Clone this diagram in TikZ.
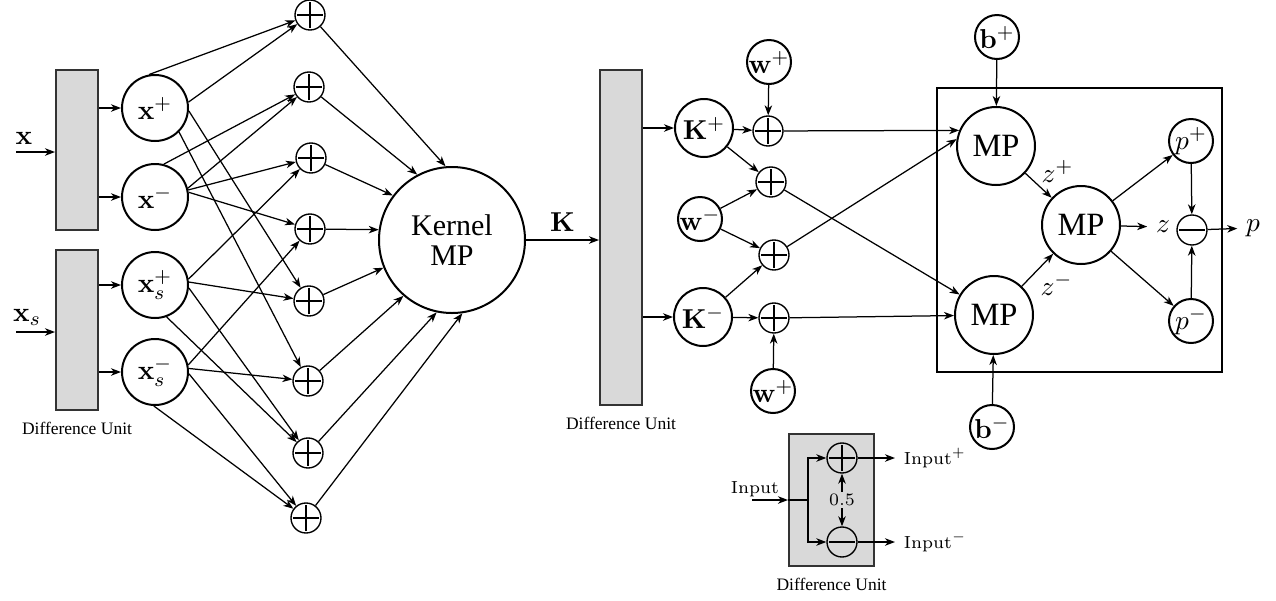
\documentclass[tikz,border=0pt]{standalone}
\usepackage[no-math]{fontspec}
\setmainfont{Liberation Serif}
\usetikzlibrary{arrows.meta, positioning}

\begin{document}
\begin{tikzpicture}[
    x=0.4pt, y=-0.4pt,
    font=\fontsize{11}{12}\selectfont,
    unit/.style={draw=black!80, line width=0.8pt, fill=black!15, minimum width=16.8pt},
    var/.style={circle, draw, line width=0.8pt, inner sep=0pt},
    sum/.style={circle, draw, line width=0.55pt, minimum size=12pt, inner sep=0pt,
        path picture={\draw[line width=0.55pt] ([xshift=-5.2pt]path picture bounding box.center) -- ([xshift=5.2pt]path picture bounding box.center);
                      \draw[line width=0.55pt] ([yshift=-5.2pt]path picture bounding box.center) -- ([yshift=5.2pt]path picture bounding box.center);}},
    diff/.style={circle, draw, line width=0.55pt, minimum size=12pt, inner sep=0pt,
        path picture={\draw[line width=0.55pt] ([xshift=-5.2pt]path picture bounding box.center) -- ([xshift=5.2pt]path picture bounding box.center);}},
    caption/.style={font=\fontsize{7}{8}\selectfont},
    arrow/.style={-{Stealth[length=4pt, width=3pt, inset=1.2pt]}, line width=0.5pt},
    dblarrow/.style={{Stealth[length=4pt, width=3pt, inset=1.2pt]}-{Stealth[length=4pt, width=3pt, inset=1.2pt]}, line width=0.5pt}
]
\useasboundingbox (0,0) rectangle (1276,601);

% Difference units and inputs
\node[unit, minimum height=64pt] (du1) at (77,150) {};
\node[unit, minimum height=64pt] (du2) at (77,330) {};
\node[caption, below=1pt of du2] (du2lbl) {Difference Unit};
\coordinate (inx) at (16,152);
\coordinate (inxs) at (16,332);
\node (lblx) at (24,138) {$\mathbf{x}$};
\node (lblxs) at (27,317) {$\mathbf{x}_s$};

% Nodes
\node[var, minimum size=26.4pt] (xp) at (155,108) {$\mathbf{x}^+$};
\node[var, minimum size=26.4pt] (xm) at (155,197) {$\mathbf{x}^-$};
\node[var, minimum size=26.4pt] (xsp) at (155,285) {$\mathbf{x}_s^+$};
\node[var, minimum size=26.4pt] (xsm) at (155,372) {$\mathbf{x}_s^-$};
\foreach \i/\x/\y in {1/310/15, 2/309/87, 3/311/158, 4/310/229, 5/309/301, 6/308/381, 7/308/453, 8/306/518}
    \node[sum] (s\i) at (\x,\y) {};
\node[var, minimum size=58.4pt, align=center, font=\fontsize{12}{12}\selectfont] (kernel) at (452,240) {Kernel\\MP};

% Arrows for the input side
\draw[arrow] (inx) -- (du1.west |- inx);
\draw[arrow] (inxs) -- (du2.west |- inxs);
\draw[arrow] (du1.east |- xp) -- (xp);
\draw[arrow] (du1.east |- xm) -- (xm);
\draw[arrow] (du2.east |- xsp) -- (xsp);
\draw[arrow] (du2.east |- xsm) -- (xsm);
\foreach \a/\b in {xp.100/s1, xp.10/s1, xp.-5/s5, xp.-45/s6,
                   xm.75/s2, xm.15/s2, xm.12/s3, xm.8/s4,
                   xsp.10/s3, xsp.5/s5, xsp.-5/s7, xsp.-70/s7,
                   xsm.12/s4, xsm.6/s6, xsm.-3/s8, xsm.-92/s8}
    \draw[arrow] (\a) -- (\b);
\foreach \i/\ang in {1/95, 2/118, 3/143, 4/172, 5/202, 6/229, 7/258, 8/278}
    \draw[arrow] (s\i) -- (kernel.\ang);

% Second difference unit
\node[unit, minimum height=134pt] (du3) at (621,237) {};
\node[caption, below=1pt of du3] (du3lbl) {Difference Unit};
\draw[arrow] (kernel) -- (kernel -| du3.west) node[midway, above] {$\mathbf{K}$};

\node[var, minimum size=23.2pt] (kp) at (704,128) {$\mathbf{K}^+$};
\node[var, minimum size=23.2pt] (km) at (703,317) {$\mathbf{K}^-$};
\node[var, minimum size=17.6pt] (wt) at (769,62) {\makebox[0pt]{$\mathbf{w}^+$}};
\node[var, minimum size=17.6pt] (wm) at (700,219) {\makebox[0pt]{$\mathbf{w}^-$}};
\node[var, minimum size=17.6pt] (wb) at (773,391) {\makebox[0pt]{$\mathbf{w}^+$}};
\node[sum] (q1) at (768,131) {};
\node[sum] (q2) at (771,182) {};
\node[sum] (q3) at (774,255) {};
\node[sum] (q4) at (774,318) {};

\draw[arrow] (du3.east |- kp) -- (kp);
\draw[arrow] (du3.east |- km) -- (km);
\draw[arrow] (wt) -- (q1);
\draw[arrow] (kp) -- (q1);
\draw[arrow] (kp) -- (q2);
\draw[arrow] (wm) -- (q2);
\draw[arrow] (wm) -- (q3);
\draw[arrow] (km) -- (q3);
\draw[arrow] (km) -- (q4);
\draw[arrow] (wb) -- (q4);

% Output block
\node[draw, line width=0.8pt, minimum width=114pt, minimum height=113.6pt] (mpbox) at (1079.5,230) {};
\node[var, minimum size=31.2pt, font=\fontsize{13}{13}\selectfont] (mp1) at (996,146) {MP};
\node[var, minimum size=31.2pt, font=\fontsize{13}{13}\selectfont] (mp2) at (994,315) {MP};
\node[var, minimum size=31.2pt, font=\fontsize{13}{13}\selectfont] (mpc) at (1081,225) {MP};
\node[var, minimum size=17.6pt] (bp) at (997,37) {\makebox[0pt]{$\mathbf{b}^+$}};
\node[var, minimum size=17.6pt] (bm) at (992,427) {\makebox[0pt]{$\mathbf{b}^-$}};
\node[var, minimum size=17.6pt] (pp) at (1191,141) {\makebox[0pt]{$p^+$}};
\node[var, minimum size=17.6pt] (pm) at (1191,321) {\makebox[0pt]{$p^-$}};
\node[diff] (dm) at (1192,230) {};
\node (zl) at (1163,227) {$z$};
\node (pout) at (1253,228) {$p$};

\draw[arrow] (q1) -- (mp1.157);
\draw[arrow] (q3) -- (mp1.170);
\draw[arrow] (q2) -- (mp2);
\draw[arrow] (q4) -- (mp2);
\draw[arrow] (bp) -- (mp1);
\draw[arrow] (bm) -- (mp2);
\draw[arrow] (mp1) -- (mpc) node[midway, above right, inner sep=1pt] {$z^+$};
\draw[arrow] (mp2) -- (mpc) node[midway, below right, inner sep=1pt] {$z^-$};
\draw[arrow] (mpc) -- (pp);
\draw[arrow] (mpc) -- (pm);
\draw[arrow] (mpc) -- (zl);
\draw[arrow] (pp) -- (dm);
\draw[arrow] (pm) -- (dm);
\draw[arrow] (dm) -- (pout);

% Difference unit detail
\node[unit, minimum width=34pt, minimum height=52.8pt] (du4) at (831.5,500) {};
\node[caption, below=1pt of du4] (du4lbl) {Difference Unit};
\node[sum] (dplus) at (842,458) {};
\node[diff] (dminus) at (842,542) {};
\coordinate (inin) at (752,500);
\coordinate (jn) at (808,500);
\node[caption] (inlbl) at (755,489) {$\mathrm{Input}$};
\node[caption, anchor=west] (outp) at (895,458) {$\mathrm{Input}^+$};
\node[caption, anchor=west] (outm) at (895,542) {$\mathrm{Input}^-$};
\draw[arrow] (inin) -- (du4.west |- jn);
\draw[line width=0.5pt] (du4.west |- jn) -- (jn);
\draw[arrow] (jn) |- (dplus);
\draw[arrow] (jn) |- (dminus);
\draw[dblarrow] (dplus) -- (dminus) node[midway, caption, fill=black!15, inner sep=1pt] {$0.5$};
\draw[arrow] (dplus) -- (outp);
\draw[arrow] (dminus) -- (outm);

\end{tikzpicture}
\end{document}
